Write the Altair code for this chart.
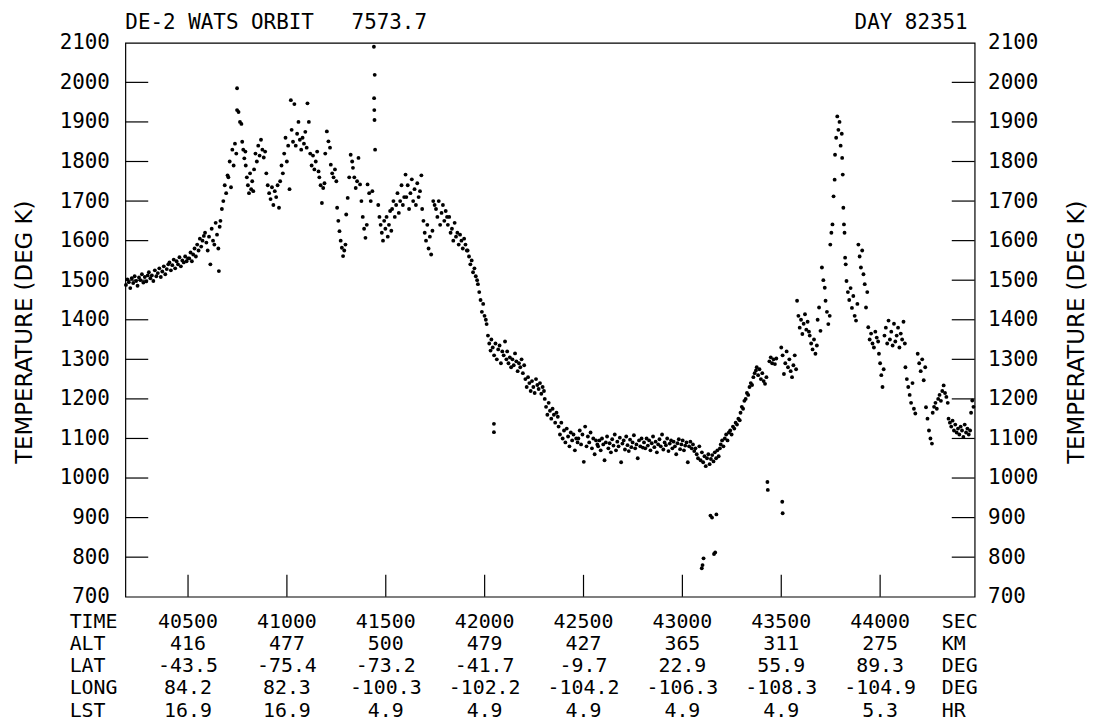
import altair as alt
import pandas as pd

# ---------------- data ----------------
# segments: (start time, end time, temperatures sampled evenly across the segment)
SEGMENTS = [
    (40186, 40296, [1488, 1502, 1495, 1480, 1505, 1493, 1510, 1498, 1486, 1507, 1500, 1515, 1494, 1508, 1497, 1512]),
    (40302, 40400, [1520, 1505, 1512, 1498, 1525, 1510, 1518, 1530, 1508, 1522, 1535, 1515, 1528, 1540]),
    (40406, 40500, [1545, 1525, 1538, 1552, 1530, 1548, 1540, 1558, 1535, 1550, 1545, 1560, 1548, 1555]),
    (40506, 40580, [1555, 1570, 1548, 1565, 1580, 1560, 1590, 1575, 1605, 1585, 1600, 1612]),
    (40586, 40660, [1620, 1595, 1575, 1610, 1540, 1630, 1600, 1590, 1645, 1615, 1580, 1635]),
    (40664, 40700, [1650, 1680, 1700, 1740, 1720, 1765]),
    (40704, 40744, [1760, 1800, 1735, 1830, 1790, 1845, 1820]),
    (40748, 40770, [1930, 1925, 1900, 1895]),
    (40774, 40790, [1850, 1830, 1808, 1825]),
    (40792, 40830, [1790, 1760, 1740, 1720, 1770, 1730, 1750, 1725]),
    (40834, 40890, [1780, 1820, 1800, 1840, 1815, 1855, 1830, 1810, 1825]),
    (40896, 40960, [1770, 1740, 1720, 1705, 1735, 1690, 1725, 1710, 1740, 1683]),
    (40966, 41020, [1750, 1790, 1770, 1820, 1860, 1800, 1840, 1730, 1955]),
    (41024, 41100, [1880, 1850, 1945, 1840, 1870, 1900, 1855, 1830, 1860, 1845, 1875, 1835]),
    (41104, 41160, [1947, 1900, 1820, 1790, 1815, 1780, 1800, 1825, 1775]),
    (41164, 41190, [1760, 1740, 1695, 1733, 1745]),
    (41194, 41218, [1820, 1876, 1851, 1835]),
    (41222, 41250, [1792, 1770, 1760, 1780, 1750]),
    (41254, 41296, [1683, 1650, 1624, 1600, 1582, 1561, 1575, 1590]),
    (41300, 41330, [1666, 1708, 1760, 1817, 1800]),
    (41334, 41362, [1784, 1760, 1733, 1750, 1809]),
    (41370, 41404, [1742, 1700, 1660, 1630, 1607, 1640]),
    (41408, 41432, [1742, 1720, 1700, 1725]),
    (41462, 41528, [1690, 1660, 1640, 1620, 1600, 1650, 1630, 1660, 1610, 1640, 1675, 1625]),
    (41532, 41600, [1680, 1700, 1660, 1690, 1720, 1670, 1700, 1740, 1690, 1710, 1767]),
    (41604, 41680, [1710, 1740, 1680, 1720, 1755, 1700, 1730, 1690, 1745, 1710, 1725, 1765]),
    (41684, 41736, [1680, 1650, 1620, 1600, 1640, 1580, 1610, 1565, 1625]),
    (41740, 41810, [1700, 1690, 1680, 1660, 1700, 1640, 1670, 1690, 1650, 1675, 1660]),
    (41814, 41910, [1640, 1660, 1620, 1630, 1600, 1645, 1610, 1620, 1590, 1615, 1600, 1580, 1605, 1590, 1575]),
    (41914, 41962, [1575, 1560, 1540, 1550, 1520, 1530, 1510, 1500]),
    (41966, 42006, [1490, 1470, 1450, 1420, 1440, 1410, 1400]),
    (42010, 42030, [1389, 1360, 1340, 1322]),
    (42034, 42110, [1350, 1330, 1310, 1340, 1300, 1325, 1335, 1290, 1320, 1310, 1345, 1300]),
    (42114, 42200, [1320, 1290, 1305, 1280, 1300, 1285, 1315, 1295, 1270, 1290, 1280, 1300, 1265, 1285]),
    (42206, 42300, [1250, 1230, 1255, 1240, 1220, 1245, 1230, 1215, 1250, 1235, 1225, 1240, 1213, 1230, 1220]),
    (42304, 42370, [1200, 1180, 1160, 1190, 1170, 1150, 1175, 1160, 1140, 1165, 1155]),
    (42374, 42470, [1130, 1110, 1140, 1100, 1120, 1090, 1125, 1105, 1080, 1115, 1095, 1110, 1070, 1100, 1090]),
    (42474, 42570, [1100, 1120, 1085, 1110, 1041, 1130, 1080, 1105, 1090, 1115, 1075, 1100, 1060, 1095, 1085]),
    (42574, 42800, [1080, 1095, 1070, 1100, 1085, 1045, 1090, 1105, 1075, 1088, 1065, 1098, 1082, 1110, 1070, 1092,
                    1080, 1102, 1040, 1087, 1095, 1072, 1105, 1083, 1068, 1097, 1078, 1090, 1108, 1075, 1085, 1050,
                    1095, 1080, 1100, 1077]),
    (42806, 43060, [1090, 1075, 1100, 1082, 1095, 1070, 1088, 1105, 1078, 1092, 1065, 1085, 1098, 1080, 1110, 1072,
                    1090, 1083, 1100, 1068, 1087, 1095, 1075, 1092, 1080, 1060, 1088, 1098, 1073, 1085, 1095, 1070,
                    1082, 1090, 1040, 1080, 1092, 1075, 1085, 1068]),
    (43066, 43190, [1075, 1060, 1050, 1080, 1045, 1065, 1040, 1055, 1030, 1050, 1060, 1035, 1048, 1058, 1042, 1065,
                    1050, 1070, 1055, 1075]),
    (43194, 43290, [1085, 1095, 1080, 1100, 1110, 1095, 1115, 1120, 1110, 1130, 1125, 1140, 1135, 1150, 1146]),
    (43294, 43372, [1165, 1180, 1175, 1195, 1200, 1215, 1210, 1230, 1240, 1235, 1255, 1265, 1272]),
    (43376, 43425, [1280, 1260, 1275, 1250, 1265, 1245, 1238, 1255]),
    (43440, 43475, [1295, 1305, 1290, 1300, 1288, 1302]),
    (43500, 43575, [1330, 1310, 1263, 1290, 1320, 1280, 1300, 1270, 1255, 1285, 1310, 1275]),
    (43580, 43640, [1448, 1410, 1380, 1400, 1364, 1390, 1414, 1375, 1395, 1370]),
    (43644, 43680, [1360, 1340, 1325, 1350, 1314, 1335]),
    (43684, 43720, [1400, 1431, 1372, 1532, 1500, 1481]),
    (43724, 43745, [1448, 1420, 1389, 1410]),
    (43748, 43770, [1590, 1620, 1641, 1712, 1754]),
    (43772, 43806, [1817, 1860, 1914, 1880, 1900, 1840, 1870]),
    (43808, 43826, [1809, 1767, 1683, 1641, 1620, 1557, 1540]),
    (43830, 43885, [1498, 1470, 1450, 1480, 1430, 1460, 1410, 1398, 1440]),
    (43890, 43935, [1590, 1560, 1532, 1575, 1515, 1490, 1431, 1470]),
    (43940, 43990, [1381, 1350, 1365, 1340, 1330, 1370, 1355, 1345]),
    (43994, 44018, [1314, 1290, 1260, 1230, 1275]),
    (44022, 44125, [1360, 1380, 1340, 1398, 1350, 1370, 1335, 1390, 1345, 1360, 1380, 1330, 1365, 1350, 1395, 1340]),
    (44128, 44178, [1280, 1250, 1230, 1210, 1190, 1240, 1175, 1163]),
    (44190, 44228, [1314, 1290, 1270, 1300, 1247, 1280]),
    (44232, 44262, [1179, 1150, 1120, 1100, 1087]),
    (44266, 44342, [1165, 1180, 1190, 1175, 1200, 1210, 1195, 1220, 1234, 1215, 1205, 1190]),
    (44346, 44455, [1150, 1140, 1130, 1145, 1120, 1135, 1115, 1125, 1110, 1130, 1120, 1104, 1135, 1115, 1125, 1110, 1120]),
    (44460, 44472, [1165, 1196, 1180]),
]

# isolated points (time, temperature)
OUTLIER_T = [40748, 40656, 41440, 41444, 41441, 41442, 41443, 41446, 42047, 42047,
             43098, 43102, 43107, 43142, 43150, 43172, 43160, 43166, 43430, 43432, 43505, 43507]
OUTLIER_K = [1985, 1523, 2090, 2019, 1960, 1930, 1905, 1830, 1137, 1116,
             772, 780, 797, 905, 900, 908, 808, 812, 990, 970, 940, 911]

TICK_TIMES = [40500, 41000, 41500, 42000, 42500, 43000, 43500, 44000]
ALT_KM = ["416", "477", "500", "479", "427", "365", "311", "275"]
LAT_DEG = ["-43.5", "-75.4", "-73.2", "-41.7", "-9.7", "22.9", "55.9", "89.3"]
LONG_DEG = ["84.2", "82.3", "-100.3", "-102.2", "-104.2", "-106.3", "-108.3", "-104.9"]
LST_HR = ["16.9", "16.9", "4.9", "4.9", "4.9", "4.9", "4.9", "5.3"]
ROW_NAMES = ["TIME", "ALT", "LAT", "LONG", "LST"]
ROW_UNITS = ["SEC", "KM", "DEG", "DEG", "HR"]
TEMP_TICKS = [800, 900, 1000, 1100, 1200, 1300, 1400, 1500, 1600, 1700, 1800, 1900, 2000]
TEMP_LABELS = list(range(700, 2101, 100))

NBSP = "\u00a0"
TITLE_LEFT = "DE-2 WATS ORBIT" + NBSP * 3 + "7573.7"
TITLE_RIGHT = "DAY 82351"
Y_TITLE = "TEMPERATURE (DEG K)"

# ---------------- build tables ----------------
rows_t, rows_k = [], []
for t0, t1, vals in SEGMENTS:
    n = len(vals)
    for i, v in enumerate(vals):
        rows_t.append(t0 + (t1 - t0) * i / (n - 1) if n > 1 else t0)
        rows_k.append(v)
rows_t += OUTLIER_T
rows_k += OUTLIER_K
pts = pd.DataFrame({"t": rows_t, "K": rows_k})

ticks_x = pd.DataFrame({"t": TICK_TIMES})
ticks_y = pd.DataFrame({"v": TEMP_TICKS})
labels_y = pd.DataFrame({"v": TEMP_LABELS})

W, H = 854, 557
MONO = "DejaVu Sans Mono"
FS = 20
FS_AX = 21

xs = alt.Scale(domain=[40183, 44478], nice=False, zero=False)
ys = alt.Scale(domain=[700, 2100], nice=False, zero=False)

def yaxis(orient, pad):
    return alt.Axis(orient=orient, values=TEMP_LABELS, format="d", ticks=False, domain=False,
                    grid=False, labelFont=MONO, labelFontSize=FS_AX, labelColor="black",
                    labelPadding=pad, title=None, labelOverlap=False, labelFlush=False)

points = alt.Chart(pts).mark_circle(size=15, color="black", opacity=1).encode(
    x=alt.X("t:Q", scale=xs, axis=None),
    y=alt.Y("K:Q", scale=ys, axis=None),
)

left_labels = alt.Chart(labels_y).mark_rule(opacity=0).encode(
    x=alt.value(0), x2=alt.value(1),
    y=alt.Y("v:Q", scale=ys, axis=yaxis("left", 16)),
)
right_labels = alt.Chart(labels_y).mark_rule(opacity=0).encode(
    x=alt.value(W - 1), x2=alt.value(W),
    y=alt.Y("v:Q", scale=ys, axis=yaxis("right", 13)),
)

lt = alt.Chart(ticks_y).mark_rule(color="black", strokeWidth=1.2).encode(
    x=alt.value(0), x2=alt.value(23), y=alt.Y("v:Q", scale=ys, axis=None))
rt = alt.Chart(ticks_y).mark_rule(color="black", strokeWidth=1.2).encode(
    x=alt.value(W - 23), x2=alt.value(W), y=alt.Y("v:Q", scale=ys, axis=None))
bt = alt.Chart(ticks_x).mark_rule(color="black", strokeWidth=1.2).encode(
    x=alt.X("t:Q", scale=xs, axis=None), y=alt.value(H - 22), y2=alt.value(H))

ROW_Y = [582, 605, 627, 649, 672]
row_values = [[str(t) for t in TICK_TIMES], ALT_KM, LAT_DEG, LONG_DEG, LST_HR]

layers = [points, left_labels, right_labels, lt, rt, bt]
for name, unit, vals, py in zip(ROW_NAMES, ROW_UNITS, row_values, ROW_Y):
    df = pd.DataFrame({"t": TICK_TIMES, "s": vals})
    layers.append(alt.Chart(df).mark_text(font=MONO, fontSize=FS, color="black", align="center",
                                          baseline="middle").encode(
        x=alt.X("t:Q", scale=xs, axis=None), y=alt.value(py), text="s:N"))
    layers.append(alt.Chart(pd.DataFrame({"s": [name]})).mark_text(
        font=MONO, fontSize=FS, color="black", align="left", baseline="middle").encode(
        x=alt.value(-56), y=alt.value(py), text="s:N"))
    layers.append(alt.Chart(pd.DataFrame({"s": [unit]})).mark_text(
        font=MONO, fontSize=FS, color="black", align="left", baseline="middle").encode(
        x=alt.value(821), y=alt.value(py), text="s:N"))

layers.append(alt.Chart(pd.DataFrame({"s": [TITLE_LEFT]})).mark_text(
    font=MONO, fontSize=FS_AX, color="black", align="left", baseline="middle").encode(
    x=alt.value(0), y=alt.value(-20), text="s:N"))
layers.append(alt.Chart(pd.DataFrame({"s": [TITLE_RIGHT]})).mark_text(
    font=MONO, fontSize=FS_AX, color="black", align="right", baseline="middle").encode(
    x=alt.value(847), y=alt.value(-20), text="s:N"))
for px in [-101, 957]:
    layers.append(alt.Chart(pd.DataFrame({"s": [Y_TITLE]})).mark_text(
        font="DejaVu Sans", fontSize=23, color="black", align="center", baseline="middle",
        angle=270).encode(x=alt.value(px), y=alt.value(291), text="s:N"))

chart = alt.layer(*layers).resolve_scale(y="shared", x="shared").resolve_axis(
    y="independent"
).properties(
    width=W, height=H,
    autosize=alt.AutoSizeParams(type="none"),
    padding={"left": 118, "top": 33, "right": 117, "bottom": 128},
    background="white",
).configure_view(stroke="black", strokeWidth=1.2)

chart.save("out.html", embed_options={"renderer": "svg", "actions": False})
